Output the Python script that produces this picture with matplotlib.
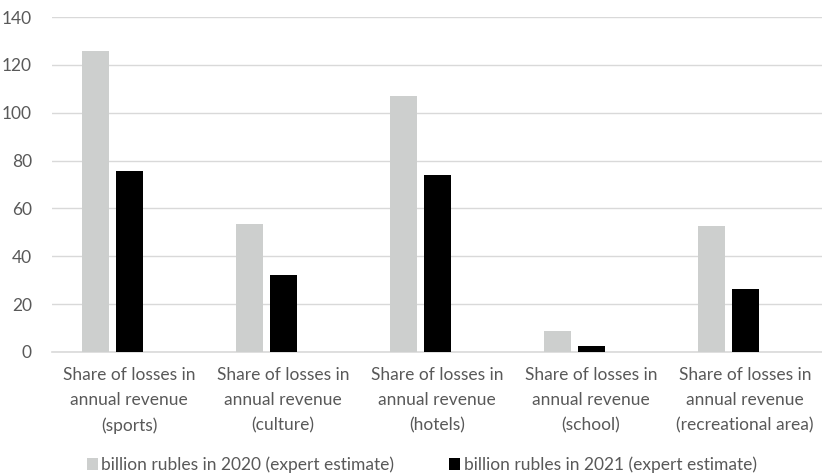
import matplotlib.pyplot as plt
import numpy as np

plt.rcParams['font.family'] = ['Lato', 'DejaVu Sans']

# losses by sector, billion rubles
categories = [
    "Share of losses in\nannual revenue\n(sports)",
    "Share of losses in\nannual revenue\n(culture)",
    "Share of losses in\nannual revenue\n(hotels)",
    "Share of losses in\nannual revenue\n(school)",
    "Share of losses in\nannual revenue\n(recreational area)",
]
losses_2020 = [126, 53.5, 107, 8.8, 52.7]
losses_2021 = [75.5, 32, 73.8, 2.6, 26.2]
series_names = [
    "billion rubles in 2020 (expert estimate)",
    "billion rubles in 2021 (expert estimate)",
]

text_color = "#595959"
grid_color = "#D9D9D9"

fig = plt.figure(figsize=(8.22, 4.75), dpi=100)
ax = fig.add_axes([0.0633, 0.259, 0.9367, 0.705])

x = np.arange(len(categories))
width = 0.176
ax.bar(x - 0.218, losses_2020, width, color="#CDCFCE", label=series_names[0], zorder=3)
ax.bar(x + 0.003, losses_2021, width, color="black", label=series_names[1], zorder=3)

ax.set_xlim(-0.5, len(categories) - 0.5)
ax.set_ylim(0, 140)
ax.set_yticks(range(0, 141, 20))
ax.yaxis.grid(True, color=grid_color, linewidth=1.0, zorder=0)
ax.set_xticks(x)
ax.set_xticklabels(categories, linespacing=1.7)

for side in ["top", "right", "left"]:
    ax.spines[side].set_visible(False)
ax.spines["bottom"].set_color(grid_color)
ax.spines["bottom"].set_linewidth(1.2)
ax.tick_params(axis="both", length=0, labelsize=12.5, colors=text_color)
ax.tick_params(axis="x", pad=11)
ax.tick_params(axis="y", pad=14.5)

fig.legend(loc="center", bbox_to_anchor=(0.513, 0.021), ncol=2, frameon=False,
           fontsize=12.5, labelcolor=text_color, handlelength=0.65, handleheight=0.65,
           handletextpad=0.2, columnspacing=3.15)

fig.savefig("out.png", dpi=100)
